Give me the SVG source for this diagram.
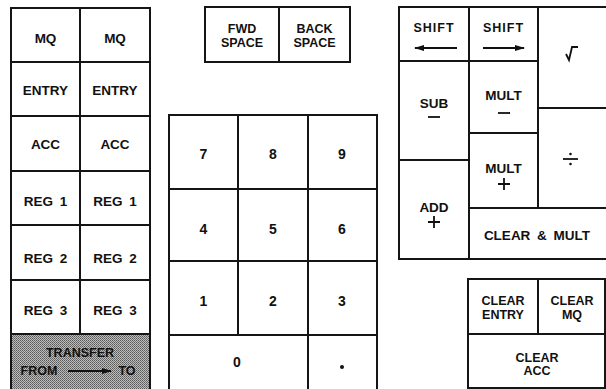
<svg xmlns="http://www.w3.org/2000/svg" width="606" height="389" viewBox="0 0 606 389">
  <style>
    .key { fill: #fff; stroke: #151515; stroke-width: 2; }
    .shade { fill: url(#dither); stroke: #151515; stroke-width: 2; }
    text { font-family: "Liberation Sans", Arial, sans-serif; font-weight: bold; fill: #111; text-anchor: middle; }
    .t1 { font-size: 13.5px; word-spacing: 3px; }
    .t2 { font-size: 12.5px; }
    .wide { letter-spacing: 1px; }
    .dig { font-size: 14px; }
    .sym { stroke: #111; stroke-width: 1.8; fill: none; }
  </style>
  <defs>
    <!-- halftone grey for the transfer key -->
    <pattern id="dither" width="2" height="2" patternUnits="userSpaceOnUse">
      <rect width="2" height="2" fill="#bdbdbd"/>
      <rect width="1" height="1" fill="#5a5a5a"/>
      <rect x="1" y="1" width="1" height="1" fill="#707070"/>
    </pattern>
    <marker id="head" viewBox="0 0 10 6" refX="9" refY="3" markerWidth="10" markerHeight="6" markerUnits="userSpaceOnUse" orient="auto">
      <path d="M0,0 L10,3 L0,6 Z" fill="#111"/>
    </marker>
  </defs>

  <rect width="606" height="389" fill="#fff"/>

  <!-- register keys -->
  <g id="mq-from"><rect class="key" x="11" y="8" width="69" height="54"/><text class="t1" x="45.5" y="43">MQ</text></g>
  <g id="mq-to"><rect class="key" x="80" y="8" width="70" height="54"/><text class="t1" x="115" y="43">MQ</text></g>
  <g id="entry-from"><rect class="key" x="11" y="62" width="69" height="54"/><text class="t1" x="45.5" y="95">ENTRY</text></g>
  <g id="entry-to"><rect class="key" x="80" y="62" width="70" height="54"/><text class="t1" x="115" y="95">ENTRY</text></g>
  <g id="acc-from"><rect class="key" x="11" y="116" width="69" height="55"/><text class="t1" x="45.5" y="149">ACC</text></g>
  <g id="acc-to"><rect class="key" x="80" y="116" width="70" height="55"/><text class="t1" x="115" y="149">ACC</text></g>
  <g id="reg1-from"><rect class="key" x="11" y="171" width="69" height="54"/><text class="t1" x="45.5" y="206">REG 1</text></g>
  <g id="reg1-to"><rect class="key" x="80" y="171" width="70" height="54"/><text class="t1" x="115" y="206">REG 1</text></g>
  <g id="reg2-from"><rect class="key" x="11" y="225" width="69" height="55"/><text class="t1" x="45.5" y="263">REG 2</text></g>
  <g id="reg2-to"><rect class="key" x="80" y="225" width="70" height="55"/><text class="t1" x="115" y="263">REG 2</text></g>
  <g id="reg3-from"><rect class="key" x="11" y="280" width="69" height="54"/><text class="t1" x="45.5" y="315">REG 3</text></g>
  <g id="reg3-to"><rect class="key" x="80" y="280" width="70" height="54"/><text class="t1" x="115" y="315">REG 3</text></g>
  <g id="transfer">
    <rect class="shade" x="11" y="334" width="139" height="58"/>
    <text class="t2" x="80" y="357">TRANSFER</text>
    <text class="t2" x="39" y="375">FROM</text>
    <text class="t2" x="127" y="375">TO</text>
  </g>

  <!-- spacing keys -->
  <g id="fwd-space"><rect class="key" x="205" y="7" width="74" height="55"/><text class="t2" x="242" y="33">FWD</text><text class="t2" x="242" y="47">SPACE</text></g>
  <g id="back-space"><rect class="key" x="279" y="7" width="71" height="55"/><text class="t2" x="314.5" y="33">BACK</text><text class="t2" x="314.5" y="47">SPACE</text></g>

  <!-- numeric keypad -->
  <g id="key-7"><rect class="key" x="169" y="115" width="69" height="74"/><text class="dig" x="203.5" y="159">7</text></g>
  <g id="key-8"><rect class="key" x="238" y="115" width="70" height="74"/><text class="dig" x="273" y="159">8</text></g>
  <g id="key-9"><rect class="key" x="308" y="115" width="69" height="74"/><text class="dig" x="342" y="159">9</text></g>
  <g id="key-4"><rect class="key" x="169" y="189" width="69" height="72"/><text class="dig" x="203.5" y="234">4</text></g>
  <g id="key-5"><rect class="key" x="238" y="189" width="70" height="72"/><text class="dig" x="273" y="234">5</text></g>
  <g id="key-6"><rect class="key" x="308" y="189" width="69" height="72"/><text class="dig" x="342" y="234">6</text></g>
  <g id="key-1"><rect class="key" x="169" y="261" width="69" height="74"/><text class="dig" x="203.5" y="306">1</text></g>
  <g id="key-2"><rect class="key" x="238" y="261" width="70" height="74"/><text class="dig" x="273" y="306">2</text></g>
  <g id="key-3"><rect class="key" x="308" y="261" width="69" height="74"/><text class="dig" x="342" y="306">3</text></g>
  <g id="key-0"><rect class="key" x="169" y="335" width="139" height="57"/><text class="dig" x="237" y="367">0</text></g>
  <g id="key-point"><rect class="key" x="308" y="335" width="69" height="57"/><circle cx="342" cy="367" r="2" fill="#111"/></g>

  <!-- arithmetic keys -->
  <g id="shift-left"><rect class="key" x="399" y="7" width="70" height="54"/><text class="t2 wide" x="434" y="32">SHIFT</text></g>
  <g id="shift-right"><rect class="key" x="469" y="7" width="69" height="54"/><text class="t2 wide" x="503.5" y="32">SHIFT</text></g>
  <g id="sqrt"><rect class="key" x="538" y="7" width="72" height="101"/><path class="sym" d="M566,54 L569,60 L572,47 L578,47"/></g>
  <g id="sub"><rect class="key" x="399" y="61" width="70" height="99"/><text class="t1" x="434" y="108">SUB</text><line class="sym" x1="428" y1="117" x2="440" y2="117"/></g>
  <g id="mult-minus"><rect class="key" x="469" y="61" width="69" height="72"/><text class="t1" x="503.5" y="100">MULT</text><line class="sym" x1="498" y1="113" x2="510" y2="113"/></g>
  <g id="mult-plus"><rect class="key" x="469" y="133" width="69" height="75"/><text class="t1" x="503.5" y="173">MULT</text><path class="sym" d="M498,184 H510 M504,178 V190"/></g>
  <g id="divide"><rect class="key" x="538" y="108" width="72" height="100"/><line class="sym" x1="563" y1="159" x2="578" y2="159"/><circle cx="570.5" cy="154" r="1.3" fill="#111"/><circle cx="570.5" cy="164" r="1.3" fill="#111"/></g>
  <g id="add"><rect class="key" x="399" y="160" width="70" height="99"/><text class="t1" x="434" y="212">ADD</text><path class="sym" d="M428,222 H440 M434,216 V228"/></g>
  <g id="clear-mult"><rect class="key" x="469" y="208" width="141" height="51"/><text class="t1" x="537" y="240">CLEAR &amp; MULT</text></g>

  <!-- clearing keys -->
  <g id="clear-entry"><rect class="key" x="468" y="279" width="70" height="55"/><text class="t2" x="503" y="305">CLEAR</text><text class="t2" x="503" y="319">ENTRY</text></g>
  <g id="clear-mq"><rect class="key" x="538" y="279" width="67" height="55"/><text class="t2" x="572" y="305">CLEAR</text><text class="t2" x="572" y="319">MQ</text></g>
  <g id="clear-acc"><rect class="key" x="468" y="334" width="137" height="54"/><text class="t2" x="537" y="362">CLEAR</text><text class="t2" x="537" y="375">ACC</text></g>

  <!-- direction arrows -->
  <g id="connectors">
    <line class="sym" x1="457" y1="48" x2="415" y2="48" marker-end="url(#head)"/>
    <line class="sym" x1="483" y1="48" x2="524" y2="48" marker-end="url(#head)"/>
    <line class="sym" x1="68" y1="371" x2="111" y2="371" stroke-width="1.5" marker-end="url(#head)"/>
  </g>
</svg>
